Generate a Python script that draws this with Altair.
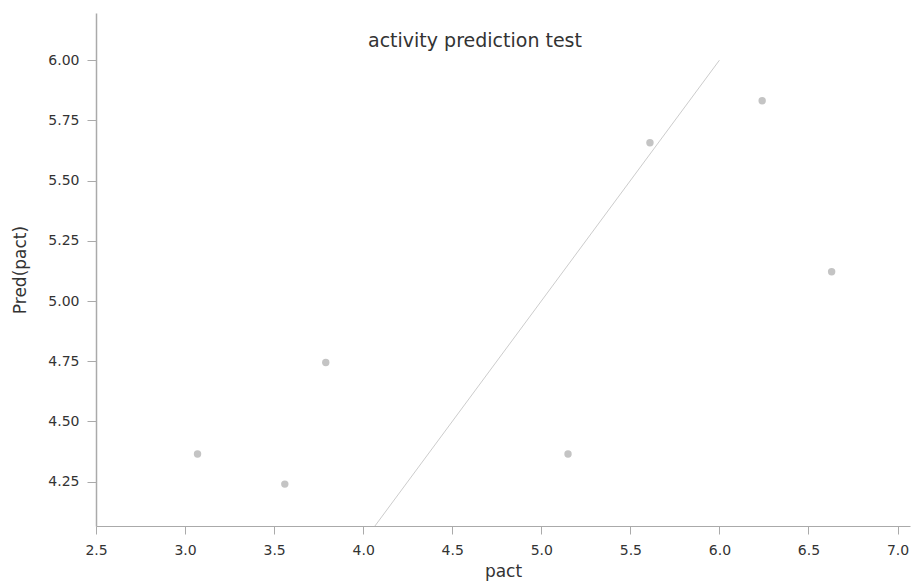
import altair as alt
import pandas as pd

pact = [3.07, 3.56, 3.79, 5.15, 5.61, 6.24, 6.63]
pred = [4.365, 4.24, 4.745, 4.365, 5.657, 5.832, 5.122]

line_x = [4.066, 6.0]
line_y = [4.066, 6.0]

x_ticks = [2.5, 3.0, 3.5, 4.0, 4.5, 5.0, 5.5, 6.0, 6.5, 7.0]
y_ticks = [4.25, 4.50, 4.75, 5.00, 5.25, 5.50, 5.75, 6.00]

X_DOMAIN = [2.5, 7.07]
Y_DOMAIN = [4.066, 6.196]

pts = pd.DataFrame({"pact": pact, "pred": pred})
ln = pd.DataFrame({"pact": line_x, "pred": line_y})

xs = alt.Scale(domain=X_DOMAIN, nice=False, zero=False)
ys = alt.Scale(domain=Y_DOMAIN, nice=False, zero=False)

font = "DejaVu Sans"

xaxis = alt.Axis(values=x_ticks, format=".1f", grid=False, title="pact",
                 labelFontSize=14, titleFontSize=17, titleFontWeight="normal",
                 labelColor="#333333", titleColor="#333333",
                 domainColor="#aaaaaa", tickColor="#aaaaaa", tickSize=8,
                 labelPadding=9, titlePadding=6, labelFont=font, titleFont=font,
                 labelFlush=False)
yaxis = alt.Axis(values=y_ticks, format=".2f", grid=False, title="Pred(pact)",
                 labelFontSize=14, titleFontSize=17, titleFontWeight="normal",
                 labelColor="#333333", titleColor="#333333",
                 domainColor="#aaaaaa", tickColor="#aaaaaa", tickSize=9,
                 domainWidth=1.5,
                 labelPadding=8, titlePadding=18, labelFont=font, titleFont=font,
                 labelFlush=False)

points = alt.Chart(pts).mark_circle(size=55, color="#c4c4c4", opacity=1).encode(
    x=alt.X("pact:Q", scale=xs, axis=xaxis),
    y=alt.Y("pred:Q", scale=ys, axis=yaxis),
)

diag = alt.Chart(ln).mark_line(color="#cccccc", strokeWidth=1).encode(
    x=alt.X("pact:Q", scale=xs),
    y=alt.Y("pred:Q", scale=ys),
)

title = alt.Chart(pd.DataFrame({"t": ["activity prediction test"]})).mark_text(
    font=font, fontSize=19, color="#333333", align="center", baseline="middle"
).encode(x=alt.value(379), y=alt.value(28), text="t:N")

chart = alt.layer(diag, points, title).properties(
    width=814, height=513,
    padding={"left": 96, "top": 13, "right": 2, "bottom": 56},
    autosize=alt.AutoSizeParams(type="none"),
    background="white",
).configure_view(strokeWidth=0, stroke="transparent")

chart.save("out.html", embed_options={"renderer": "svg", "actions": False})
